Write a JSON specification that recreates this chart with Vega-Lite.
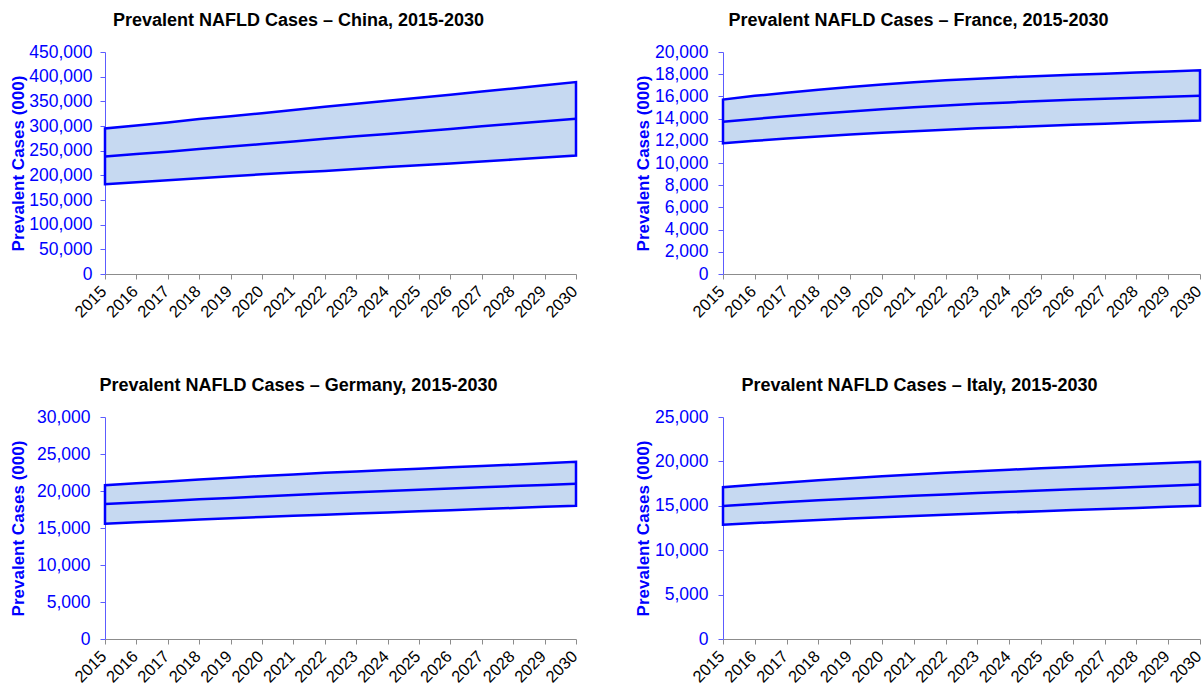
{
  "$schema": "https://vega.github.io/schema/vega-lite/v6.json",
  "padding": {"left": 8, "top": 12, "right": 2, "bottom": 2},
  "config": {
    "view": {"stroke": null},
    "font": "Liberation Sans",
    "title": {"font": "Liberation Sans", "fontSize": 18, "fontWeight": "bold", "color": "#000000", "anchor": "middle", "frame": "group", "baseline": "alphabetic", "offset": 13},
    "axisX": {"domainColor": "#8c8c8c", "tickColor": "#8c8c8c", "tickSize": 5, "labelAngle": -45, "labelAlign": "right", "labelBaseline": "alphabetic", "labelOffset": 2, "labelPadding": 13, "labelFontSize": 16.5, "labelColor": "#000000", "labelFont": "Liberation Sans", "grid": false, "title": null, "labelOverlap": false},
    "axisY": {"domainColor": "#5c5cff", "tickColor": "#5c5cff", "tickSize": 5, "labelPadding": 10, "labelFontSize": 17.5, "labelColor": "#0000ff", "labelFont": "Liberation Sans", "labelOverlap": false, "grid": false, "titleFontSize": 17, "titleFont": "Liberation Sans", "titleFontWeight": "bold", "titleColor": "#0000ff", "titleAngle": -90, "titleAlign": "center", "titleBaseline": "middle", "titleY": 111, "format": ",d"}
  },
  "datasets": {
    "china": [
      {"year": "2015", "low": 182000, "mid": 238000, "high": 295000},
      {"year": "2016", "low": 186000, "mid": 243000, "high": 301000},
      {"year": "2017", "low": 190000, "mid": 248000, "high": 307000},
      {"year": "2018", "low": 194000, "mid": 253500, "high": 314000},
      {"year": "2019", "low": 198000, "mid": 258500, "high": 320000},
      {"year": "2020", "low": 202000, "mid": 263500, "high": 326000},
      {"year": "2021", "low": 205500, "mid": 268500, "high": 332500},
      {"year": "2022", "low": 209000, "mid": 274000, "high": 339000},
      {"year": "2023", "low": 213000, "mid": 279000, "high": 345000},
      {"year": "2024", "low": 217000, "mid": 284000, "high": 351000},
      {"year": "2025", "low": 220500, "mid": 289000, "high": 357500},
      {"year": "2026", "low": 224000, "mid": 294000, "high": 363500},
      {"year": "2027", "low": 228000, "mid": 299500, "high": 370000},
      {"year": "2028", "low": 232000, "mid": 304500, "high": 376000},
      {"year": "2029", "low": 236000, "mid": 309500, "high": 382500},
      {"year": "2030", "low": 240000, "mid": 314500, "high": 389000}
    ],
    "france": [
      {"year": "2015", "low": 11770, "mid": 13710, "high": 15720},
      {"year": "2016", "low": 12000, "mid": 13970, "high": 16050},
      {"year": "2017", "low": 12200, "mid": 14210, "high": 16330},
      {"year": "2018", "low": 12390, "mid": 14440, "high": 16600},
      {"year": "2019", "low": 12570, "mid": 14650, "high": 16850},
      {"year": "2020", "low": 12730, "mid": 14850, "high": 17070},
      {"year": "2021", "low": 12870, "mid": 15030, "high": 17270},
      {"year": "2022", "low": 13000, "mid": 15190, "high": 17450},
      {"year": "2023", "low": 13120, "mid": 15330, "high": 17600},
      {"year": "2024", "low": 13230, "mid": 15460, "high": 17730},
      {"year": "2025", "low": 13340, "mid": 15580, "high": 17840},
      {"year": "2026", "low": 13440, "mid": 15690, "high": 17950},
      {"year": "2027", "low": 13540, "mid": 15790, "high": 18050},
      {"year": "2028", "low": 13640, "mid": 15880, "high": 18150},
      {"year": "2029", "low": 13740, "mid": 15970, "high": 18250},
      {"year": "2030", "low": 13830, "mid": 16050, "high": 18350}
    ],
    "germany": [
      {"year": "2015", "low": 15580, "mid": 18230, "high": 20790},
      {"year": "2016", "low": 15780, "mid": 18450, "high": 21050},
      {"year": "2017", "low": 15960, "mid": 18660, "high": 21300},
      {"year": "2018", "low": 16140, "mid": 18870, "high": 21550},
      {"year": "2019", "low": 16310, "mid": 19070, "high": 21800},
      {"year": "2020", "low": 16480, "mid": 19270, "high": 22020},
      {"year": "2021", "low": 16640, "mid": 19460, "high": 22240},
      {"year": "2022", "low": 16800, "mid": 19650, "high": 22450},
      {"year": "2023", "low": 16960, "mid": 19830, "high": 22650},
      {"year": "2024", "low": 17110, "mid": 20000, "high": 22840},
      {"year": "2025", "low": 17260, "mid": 20170, "high": 23020},
      {"year": "2026", "low": 17410, "mid": 20340, "high": 23200},
      {"year": "2027", "low": 17560, "mid": 20500, "high": 23380},
      {"year": "2028", "low": 17710, "mid": 20660, "high": 23560},
      {"year": "2029", "low": 17860, "mid": 20820, "high": 23750},
      {"year": "2030", "low": 18010, "mid": 20970, "high": 23940}
    ],
    "italy": [
      {"year": "2015", "low": 12870, "mid": 14970, "high": 17100},
      {"year": "2016", "low": 13060, "mid": 15200, "high": 17380},
      {"year": "2017", "low": 13240, "mid": 15420, "high": 17630},
      {"year": "2018", "low": 13410, "mid": 15620, "high": 17870},
      {"year": "2019", "low": 13570, "mid": 15800, "high": 18100},
      {"year": "2020", "low": 13720, "mid": 15970, "high": 18320},
      {"year": "2021", "low": 13860, "mid": 16130, "high": 18520},
      {"year": "2022", "low": 14000, "mid": 16280, "high": 18710},
      {"year": "2023", "low": 14130, "mid": 16430, "high": 18890},
      {"year": "2024", "low": 14260, "mid": 16570, "high": 19060},
      {"year": "2025", "low": 14390, "mid": 16710, "high": 19220},
      {"year": "2026", "low": 14520, "mid": 16850, "high": 19380},
      {"year": "2027", "low": 14640, "mid": 16990, "high": 19530},
      {"year": "2028", "low": 14760, "mid": 17130, "high": 19670},
      {"year": "2029", "low": 14880, "mid": 17270, "high": 19810},
      {"year": "2030", "low": 15000, "mid": 17400, "high": 19950}
    ]
  },
  "columns": 2,
  "bounds": "flush",
  "spacing": {"row": 143, "column": 147},
  "concat": [
    {
      "data": {"name": "china"},
      "width": 471,
      "height": 222,
      "title": {"text": "Prevalent NAFLD Cases – China, 2015-2030", "dx": -42},
      "encoding": {
        "x": {"field": "year", "type": "ordinal", "scale": {"type": "point", "padding": 0}}
      },
      "layer": [
        {
          "mark": {"type": "area", "fill": "#c6d9f1", "stroke": "#0000ff", "strokeWidth": 2.5, "strokeJoin": "miter"},
          "encoding": {
            "y": {"field": "low", "type": "quantitative", "scale": {"domain": [0, 450000], "nice": false, "zero": true}, "axis": {"values": [0, 50000, 100000, 150000, 200000, 250000, 300000, 350000, 400000, 450000], "labelPadding": 8, "title": "Prevalent Cases (000)", "titleX": -87}},
            "y2": {"field": "high"}
          }
        },
        {
          "mark": {"type": "line", "stroke": "#0000ff", "strokeWidth": 2.5},
          "encoding": {"y": {"field": "mid", "type": "quantitative", "axis": {"values": [0, 50000, 100000, 150000, 200000, 250000, 300000, 350000, 400000, 450000], "labelPadding": 8, "title": "Prevalent Cases (000)", "titleX": -87}}}
        }
      ]
    },
    {
      "data": {"name": "france"},
      "width": 477,
      "height": 222,
      "title": {"text": "Prevalent NAFLD Cases – France, 2015-2030", "dx": -43},
      "encoding": {
        "x": {"field": "year", "type": "ordinal", "scale": {"type": "point", "padding": 0}}
      },
      "layer": [
        {
          "mark": {"type": "area", "fill": "#c6d9f1", "stroke": "#0000ff", "strokeWidth": 2.5, "strokeJoin": "miter"},
          "encoding": {
            "y": {"field": "low", "type": "quantitative", "scale": {"domain": [0, 20000], "nice": false, "zero": true}, "axis": {"values": [0, 2000, 4000, 6000, 8000, 10000, 12000, 14000, 16000, 18000, 20000], "title": "Prevalent Cases (000)", "titleX": -80}},
            "y2": {"field": "high"}
          }
        },
        {
          "mark": {"type": "line", "stroke": "#0000ff", "strokeWidth": 2.5},
          "encoding": {"y": {"field": "mid", "type": "quantitative", "axis": {"values": [0, 2000, 4000, 6000, 8000, 10000, 12000, 14000, 16000, 18000, 20000], "title": "Prevalent Cases (000)", "titleX": -80}}}
        }
      ]
    },
    {
      "data": {"name": "germany"},
      "width": 471,
      "height": 222,
      "title": {"text": "Prevalent NAFLD Cases – Germany, 2015-2030", "dx": -42},
      "encoding": {
        "x": {"field": "year", "type": "ordinal", "scale": {"type": "point", "padding": 0}}
      },
      "layer": [
        {
          "mark": {"type": "area", "fill": "#c6d9f1", "stroke": "#0000ff", "strokeWidth": 2.5, "strokeJoin": "miter"},
          "encoding": {
            "y": {"field": "low", "type": "quantitative", "scale": {"domain": [0, 30000], "nice": false, "zero": true}, "axis": {"values": [0, 5000, 10000, 15000, 20000, 25000, 30000], "title": "Prevalent Cases (000)", "titleX": -87}},
            "y2": {"field": "high"}
          }
        },
        {
          "mark": {"type": "line", "stroke": "#0000ff", "strokeWidth": 2.5},
          "encoding": {"y": {"field": "mid", "type": "quantitative", "axis": {"values": [0, 5000, 10000, 15000, 20000, 25000, 30000], "title": "Prevalent Cases (000)", "titleX": -87}}}
        }
      ]
    },
    {
      "data": {"name": "italy"},
      "width": 477,
      "height": 222,
      "title": {"text": "Prevalent NAFLD Cases – Italy, 2015-2030", "dx": -42},
      "encoding": {
        "x": {"field": "year", "type": "ordinal", "scale": {"type": "point", "padding": 0}}
      },
      "layer": [
        {
          "mark": {"type": "area", "fill": "#c6d9f1", "stroke": "#0000ff", "strokeWidth": 2.5, "strokeJoin": "miter"},
          "encoding": {
            "y": {"field": "low", "type": "quantitative", "scale": {"domain": [0, 25000], "nice": false, "zero": true}, "axis": {"values": [0, 5000, 10000, 15000, 20000, 25000], "title": "Prevalent Cases (000)", "titleX": -80}},
            "y2": {"field": "high"}
          }
        },
        {
          "mark": {"type": "line", "stroke": "#0000ff", "strokeWidth": 2.5},
          "encoding": {"y": {"field": "mid", "type": "quantitative", "axis": {"values": [0, 5000, 10000, 15000, 20000, 25000], "title": "Prevalent Cases (000)", "titleX": -80}}}
        }
      ]
    }
  ]
}
